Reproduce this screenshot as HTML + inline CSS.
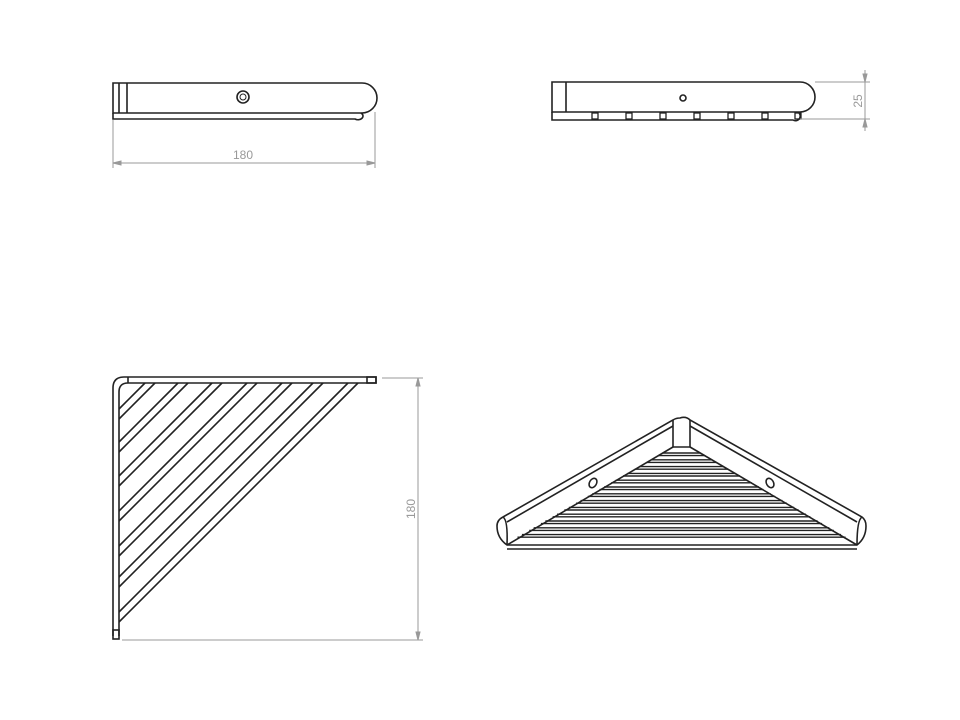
<!DOCTYPE html>
<html><head><meta charset="utf-8"><style>
html,body{margin:0;padding:0;background:#fff;width:960px;height:720px;overflow:hidden}
svg{display:block}
text{font-family:"Liberation Sans",sans-serif;fill:#999;font-size:12px}
</style></head><body>
<svg id="s" width="960" height="720" viewBox="0 0 960 720" xmlns="http://www.w3.org/2000/svg">
<g fill="none" stroke="#222" stroke-width="1.6">
<path d="M113 83 H362 A15 15 0 0 1 362 113 H113 Z"/>
<path d="M113 113 V119 H355 A4 3 0 0 0 361 113"/>
<line x1="119" y1="83" x2="119" y2="113"/>
<line x1="127" y1="83" x2="127" y2="113"/>
<circle cx="243" cy="97" r="6"/>
<circle cx="243" cy="97" r="3" stroke-width="1"/>
<path d="M552 82 H800 A15 15 0 0 1 800 112 H552 Z"/>
<path d="M552 112 V120 H793 A4 4 0 0 0 798 112"/>
<line x1="566" y1="82" x2="566" y2="112"/>
<circle cx="683" cy="98" r="3"/>
<g stroke-width="1.3">
<rect x="592" y="113" width="6" height="6"/><rect x="626" y="113" width="6" height="6"/>
<rect x="660" y="113" width="6" height="6"/><rect x="694" y="113" width="6" height="6"/>
<rect x="728" y="113" width="6" height="6"/><rect x="762" y="113" width="6" height="6"/>
<rect x="795" y="113" width="6" height="6"/>
</g>
<path d="M113 636 V388 Q113 377 124 377 H376 V383 H128 Q119 383 119 392 V636"/>
<rect x="113" y="630" width="6" height="9"/>
<rect x="367" y="377" width="9" height="6"/>
<line x1="128" y1="377" x2="128" y2="383"/>
<g id="diag"></g>
<path d="M680 418 Q686 416 690 420 L862 517 Q866 520 866 526 Q866 538 857 545 H507 Q497 538 497 526 Q497 520 503 517 L673 420 Q676 418 680 418 Z"/>
<path d="M503 517 Q508 520 507 545"/>
<path d="M862 517 Q857 520 857 545"/>
<line x1="507" y1="522" x2="673" y2="426"/>
<line x1="857" y1="522" x2="690" y2="426"/>
<line x1="673" y1="420" x2="673" y2="447"/>
<line x1="690" y1="420" x2="690" y2="447"/>
<line x1="673" y1="447" x2="690" y2="447"/>
<line x1="673" y1="447" x2="507" y2="545"/>
<line x1="690" y1="447" x2="857" y2="545"/>
<line x1="507" y1="549" x2="857" y2="549"/>
<ellipse cx="593" cy="483" rx="3.5" ry="5" transform="rotate(30 593 483)"/>
<ellipse cx="770" cy="483" rx="3.5" ry="5" transform="rotate(-30 770 483)"/>
<g id="hz" stroke-width="1.4"></g>
</g>
<g stroke="#999" stroke-width="1" fill="none">
<line x1="113" y1="120" x2="113" y2="168"/>
<line x1="375" y1="112" x2="375" y2="168"/>
<line x1="113" y1="163" x2="375" y2="163"/>
<path d="M113 163 l8 -2 v4 z M375 163 l-8 -2 v4 z" fill="#999"/>
<line x1="815" y1="82" x2="870" y2="82"/>
<line x1="800" y1="119" x2="870" y2="119"/>
<line x1="865" y1="70" x2="865" y2="131"/>
<path d="M865 82 l-2 -8 h4 z M865 119 l-2 8 h4 z" fill="#999"/>
<line x1="382" y1="378" x2="423" y2="378"/>
<line x1="122" y1="640" x2="423" y2="640"/>
<line x1="418" y1="378" x2="418" y2="640"/>
<path d="M418 378 l-2 8 h4 z M418 640 l-2 -8 h4 z" fill="#999"/>
</g>
<text x="243" y="159" text-anchor="middle">180</text>
<text transform="translate(862 101) rotate(-90)" text-anchor="middle" font-size="13">25</text>
<text transform="translate(415 509) rotate(-90)" text-anchor="middle" font-size="13">180</text>
</svg>
<script>
var ns="http://www.w3.org/2000/svg";
function L(g,x1,y1,x2,y2){var l=document.createElementNS(ns,"line");l.setAttribute("x1",x1);l.setAttribute("y1",y1);l.setAttribute("x2",x2);l.setAttribute("y2",y2);document.getElementById(g).appendChild(l);}
var tops=[145,155,178,188,212,222,247,257,282,292,313,323,348,358];
tops.forEach(function(x){var c=x+383;var ly=c-119;if(ly>625)ly=625;L("diag",x,383,c-ly,ly);});
var k=169/98;
for(var y=453;y<=541;y+=6.8){[y,y+2.6].forEach(function(yy){var lx=673-(yy-447)*k,rx=690+(yy-447)*k;L("hz",lx,yy,rx,yy);});}
</script>
</body></html>
